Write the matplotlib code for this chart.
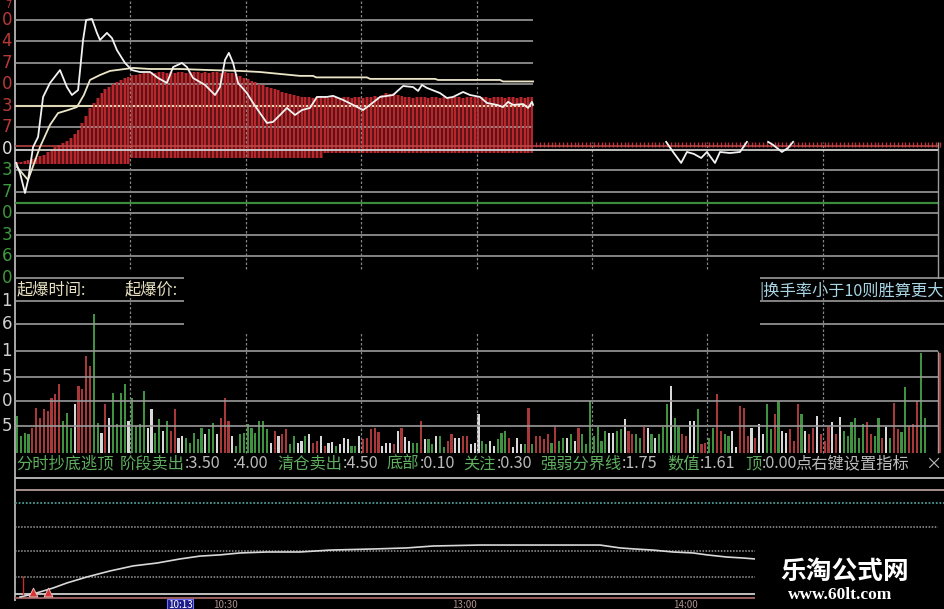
import numpy as np
import matplotlib.pyplot as plt
from matplotlib.patches import Rectangle

plt.rcParams['font.family'] = ['Noto Sans CJK SC', 'DejaVu Sans']

W, H = 945, 609
X_END = 241.8  # minutes from the left axis (15px) to the right edge

# ---------------- data ----------------
# left axis labels (only the last digit is visible in the screenshot)
top_levels = [6, 5, 4, 3, 2, 1, 0, -1, -2, -3, -4, -5, -6]
top_labels = ['0', '4', '7', '0', '3', '7', '0', '3', '7', '0', '3', '6', '0']
vol_levels = [6.08, 5.16, 4.08, 3.04, 2.08, 1.08]
vol_labels = ['1', '6', '1', '5', '0', '5']

# price line (minutes, grid units from the zero line); nan = hidden part
price_min = [0.3, 1.3, 2.6, 3.4, 4.7, 6.0, 7.3, 9.1, 11.7, 13.5,
             14.8, 16.4, 17.7, 18.5, 20.0, 21.3, 22.1, 23.9, 25.2, 26.5,
             28.6, 30.4, 32.5, 35.1, 37.2, 39.5, 41.1, 43.4, 44.7, 46.3,
             49.4, 52.0, 53.3, 54.6, 55.6, 56.7, 58.0, 60.3, 61.9, 63.7,
             65.5, 67.1, 68.9, 70.7, 72.8, 74.6, 76.7, 78.5, 81.1, 82.7,
             85.3, 87.9, 90.5, 92.3, 94.9, 98.3, 100.9, 103.5, 104.8, 105.8,
             107.1, 110.5, 112.3, 113.9, 116.5, 118.3, 120.9, 122.7, 125.3, 126.9,
             128.2, 129.5, 132.1, 133.4, 134.4, 134.7, np.nan,
             169.3, 171.1, 173.2, 174.7, 176.5, 178.4, 179.9, 182.0, 183.3, 185.9,
             188.5, 190.3, np.nan,
             195.8, 197.1, 199.4, 201.0, 202.3]
price_val = [-0.65, -1.12, -2.05, -1.44, 0.09, 0.56, 2.42, 3.07, 3.67, 2.88,
             2.51, 2.74, 5.07, 6.0, 6.05, 5.4, 5.07, 5.4, 5.16, 4.6,
             4.0, 3.67, 3.58, 3.58, 3.3, 3.07, 3.81, 4.0, 3.81, 3.3,
             2.98, 2.51, 2.88, 4.14, 4.47, 4.0, 3.07, 2.6, 2.14, 1.67,
             1.21, 1.26, 1.58, 1.91, 1.58, 1.81, 1.91, 2.42, 2.42, 2.47,
             2.28, 2.05, 1.81, 2.05, 2.42, 2.51, 2.93, 2.88, 2.7, 2.98,
             2.84, 2.6, 2.37, 2.42, 2.65, 2.51, 2.42, 2.14, 2.05, 1.95,
             2.19, 2.05, 2.09, 1.91, 2.19, 2.05, np.nan,
             0.33, -0.14, -0.65, -0.14, -0.23, -0.42, -0.14, -0.65, -0.14, -0.19,
             -0.14, 0.33, np.nan,
             0.33, 0.19, -0.14, 0.05, 0.33]

# average price line
avg_min = [0.5, 3.4, 6.5, 9.1, 11.2, 13.8, 16.1, 17.9, 19.5, 22.1,
           24.7, 30.7, 35.1, 42.9, 50.7, 58.5, 63.7, 68.9, 74.1, 77.5,
           78.3, 91.5, 92.3, 109.2, 110.0, 126.1, 126.9, 134.7]
avg_val = [-0.84, -1.44, 0.09, 1.12, 1.67, 1.81, 1.95, 2.51, 3.21, 3.44,
           3.63, 3.77, 3.72, 3.72, 3.67, 3.63, 3.58, 3.49, 3.4, 3.4,
           3.33, 3.33, 3.26, 3.26, 3.21, 3.21, 3.14, 3.14]

# red histogram in the price panel, one bar per minute (0..134)
red_top = [-0.6, -0.6, -0.55, -0.5, -0.45, -0.4, -0.35,
           -0.28, -0.15, -0.05, 0.09, 0.18, 0.28, 0.38, 0.5, 0.7, 0.88,
           1.2, 1.55, 1.9, 2.14, 2.35, 2.6, 2.78, 2.9, 3.0, 3.12, 3.22, 3.3, 3.36, 3.42, 3.46, 3.5,
           3.55, 3.52, 3.58, 3.55, 3.6, 3.56, 3.53, 3.58, 3.55, 3.6, 3.57, 3.54,
           3.58, 3.6, 3.56, 3.55, 3.58, 3.53, 3.57, 3.6, 3.55, 3.58, 3.54, 3.52,
           3.48, 3.4, 3.32, 3.24, 3.18, 3.1, 3.04, 2.96, 2.9, 2.84, 2.78, 2.72,
           2.65, 2.6, 2.55, 2.5, 2.46, 2.43,
           2.4, 2.42, 2.38, 2.4, 2.45, 2.4, 2.37, 2.42, 2.4, 2.38,
           2.44, 2.4, 2.36, 2.42, 2.4, 2.39, 2.43, 2.4, 2.45, 2.42,
           2.5, 2.6, 2.55, 2.62, 2.5, 2.45, 2.4, 2.42, 2.38, 2.4,
           2.44, 2.4, 2.36, 2.42, 2.4, 2.39, 2.43, 2.4, 2.38, 2.42,
           2.4, 2.37, 2.42, 2.4, 2.44, 2.38, 2.4, 2.42, 2.36, 2.4,
           2.43, 2.4, 2.38, 2.42, 2.4, 2.37, 2.41, 2.39, 2.42, 2.4]
red_low = [-0.72] * 30 + [-0.4] * 50 + [-0.2] * 55
red_band = (0.1, 0.32)  # small red marks to the right of the covered area

# volume bars, one per minute (0..240); r = up, g = down, w = flat
vol = [1.5, 0.7, 0.8, 0.75, 1.0, 1.8, 1.4, 1.75, 1.7, 2.2,
       2.35, 2.75, 1.3, 1.6, 1.0, 1.95, 2.7, 2.55, 3.9, 3.5,
       5.55, 1.2, 0.8, 1.95, 1.4, 2.4, 1.15, 2.4, 2.75, 1.3,
       2.2, 1.1, 1.15, 2.5, 1.0, 1.75, 0.8, 1.35, 0.9, 1.3,
       0.9, 1.75, 0.6, 0.7, 0.6, 0.4, 0.8, 0.55, 1.0, 0.75,
       0.95, 1.2, 0.75, 1.4, 2.2, 1.3, 0.7, 0.3, 0.75, 0.8, 1.15,
       1.0, 0.8, 1.3, 1.3, 0.95, 0.4, 0.9, 0.7, 0.75, 0.95,
       0.35, 0.7, 0.4, 0.5, 0.7, 0.75, 0.4, 0.5, 0.7, 0.3,
       0.4, 0.45, 0.3, 0.35, 0.6, 0.55, 0.3, 0.3, 0.7, 0.55,
       0.6, 0.95, 1.0, 0.85, 0.3, 0.4, 0.4, 0.35, 0.9, 1.0,
       0.65, 0.5, 0.4, 0.4, 1.3, 0.55, 0.55, 0.35, 0.7, 0.7,
       0.25, 0.5, 0.75, 0.6, 0.6, 0.7, 0.7, 0.35, 0.4, 1.55, 0.5,
       0.35, 0.5, 0.3, 0.55, 0.8, 0.9, 0.6, 0.25, 0.6, 0.35,
       0.35, 1.8, 0.35, 0.7, 0.7, 0.55, 0.75, 0.4, 1.05, 0.5,
       0.6, 0.6, 0.75, 0.5, 1.0, 0.75, 0.35, 2.1, 0.7, 1.05,
       0.5, 0.9, 0.8, 0.8, 0.9, 0.95, 1.35, 0.9, 0.75, 0.75,
       0.6, 1.05, 1.0, 0.75, 0.6, 0.75, 1.05, 1.95, 2.7, 1.4,
       1.05, 0.75, 0.7, 1.3, 1.3, 1.75, 0.35, 0.4, 0.6, 1.0, 2.35,
       0.9, 0.75, 0.7, 0.9, 0.25, 1.9, 1.8, 0.7, 1.0, 0.6,
       1.15, 0.75, 1.95, 0.95, 1.55, 2.1, 0.9, 0.8, 0.95, 0.5,
       1.95, 1.55, 0.9, 0.75, 1.0, 1.5, 0.75, 0.5, 1.05, 1.25,
       0.75, 1.45, 0.9, 0.7, 1.25, 1.4, 0.6, 1.15, 1.25, 0.75,
       0.7, 1.4, 0.6, 1.05, 0.6, 2.0, 0.95, 0.85, 2.65, 1.1,
       1.15, 2.1, 4.0, 1.4,
       0.0, 0.0, 0.0, 4.0]
vol_dir = ('ggggrrrrrr' 'rrgggwrrrr' 'ggwrwggggw' 'ggggwwggwg' 'rrwwgggggw' 'ggwrrrwggg' 'g'
           'gggggwrwrr' 'ggwwgwrrwr' 'wwgwwwggwr' 'rrrrwwwrwr' 'wwggrwggwg' 'grrwwrrwww' 'g'
           'gwwgggrwww' 'grgrrrrgrg' 'gwgwrggggg' 'ggwwggwrrg' 'grwgwgggwg' 'grrwwgrrgg' 'r'
           'rggwwrrrwr' 'wwggrgwwrr' 'rgwrrwrrrw' 'rwggggggrr' 'ggrwgrrggr' 'rrgg'
           'gggr')

# bottom indicator curve
bot_min = [1.3, 4.7, 9.9, 13.5, 18.7, 24.7, 30.7, 36.9, 42.9, 48.1,
           53.3, 58.5, 65.5, 74.1, 81.9, 94.1, 101.9, 108.7, 120.9, 152.1,
           157.3, 160.7, 165.9, 171.1, 176.3, 179.9, 185.1, 189.3, 192.4]
bot_val = [0.125, 0.25, 0.5, 0.71, 0.96, 1.21, 1.42, 1.54, 1.71, 1.83,
           1.88, 1.96, 2.0, 2.0, 2.08, 2.13, 2.17, 2.25, 2.29, 2.29,
           2.17, 2.13, 2.08, 2.0, 1.96, 1.88, 1.79, 1.75, 1.71]
signal_min = [4.7, 8.6]
signal_val = [0.33, 0.33]

info_items = [(16, '分时抄底逃顶', 'g'), (120, '阶段卖出', 'g'), (185, ':3.50', 'n'),
              (233, ':4.00', 'n'), (277, '清仓卖出', 'g'), (343, ':4.50', 'n'),
              (387, '底部', 'g'), (420, ':0.10', 'n'), (463, '关注', 'g'),
              (497, ':0.30', 'n'), (540, '强弱分界线', 'g'), (622, ':1.75', 'n'),
              (667, '数值', 'g'), (700, ':1.61', 'n'), (745, '顶', 'g'),
              (762, ':0.00', 'n'), (795, '点右键设置指标', 'n'), (925, '×', 'n')]

# ---------------- colours ----------------
RED, GREEN, WHITE = '#a8383a', '#3f923f', '#d8d8d8'
GRID = '#9a9a9a'
VGRID = '#858585'

fig = plt.figure(figsize=(W / 100, H / 100), dpi=100, facecolor='black')


def panel(y0, y1):
    ax = fig.add_axes([15 / W, 1 - y1 / H, (W - 15) / W, (y1 - y0) / H])
    ax.set_facecolor('black')
    ax.set_xlim(0, X_END)
    ax.axis('off')
    ax.axvline(0, color='#a8a8a8', lw=1.4, clip_on=False)
    return ax


dots = (0, (2, 1.6))

# ---------------- price panel ----------------
ax1 = panel(0, 279)
ax1.set_ylim(-6.05, 6.93)
ax1.hlines([6, 5, 4, 3, 1], 0, 134.7, color=GRID, lw=1.2)
ax1.hlines(2, 0, 134.7, color='#ddd6b4', lw=1.5)
ax1.hlines([-1, -2, -3, -4, -5], 0, 240, color=GRID, lw=1.2)
ax1.hlines(-6, 0, 44, color=GRID, lw=1.2)
ax1.hlines(-6, 193.7, X_END, color=GRID, lw=1.2)
ax1.hlines(-2.51, 0, 240, color='#3c8a3c', lw=1.6)
ax1.vlines([30, 60, 90, 120], -5.6, 6.93, color=VGRID, lw=0.9, linestyles=dots)
ax1.vlines([150, 180, 210], -5.6, 0.33, color=VGRID, lw=0.9, linestyles=dots)
ax1.vlines(240, -6.05, 0.33, color=GRID, lw=1.0)

mins = np.arange(len(red_top)) + 0.5
ax1.fill_between(mins, red_low, red_top, step='mid', color='#5c1416', lw=0)
ax1.vlines(mins, red_low, red_top, color='#c42a30', lw=1.3)
right_mins = np.arange(len(red_top), 241) + 0.5
ax1.vlines(right_mins, red_band[0], red_band[1], color='#b83038', lw=1.0)
ax1.hlines(0.15, 0, 240, color='#c04a4a', lw=1.1)
ax1.hlines(-0.05, 0, 240, color='#cfcfcf', lw=1.3)

ax1.plot(avg_min, avg_val, color='#ece6c8', lw=1.3)
ax1.plot(price_min, price_val, color='#f2f2f2', lw=1.3)

for lev, lab in zip(top_levels, top_labels):
    c = '#b83a36' if lev > 0 else ('#e0e0e0' if lev == 0 else '#3d9a3d')
    ax1.text(-0.8, lev, lab, color=c, fontsize=12, ha='right', va='center',
             family='DejaVu Sans', clip_on=False)
# partly hidden label at the very top edge
ax1.text(-0.8, 6.93, '7', color='#b83a36', fontsize=7, ha='right', va='top',
         family='DejaVu Sans', clip_on=False)

# ---------------- volume panel ----------------
ax2 = panel(279, 456)
ax2.set_ylim(-0.12, 6.96)
ax2.hlines([4.08, 3.04, 2.08, 1.08], 0, 240, color=GRID, lw=1.2)
ax2.hlines([6.08, 5.16], 0, 44, color=GRID, lw=1.2)
ax2.hlines([6.08, 5.16], 193.7, X_END, color=GRID, lw=1.2)
ax2.vlines([30, 210], 0, 6.96, color=VGRID, lw=0.9, linestyles=dots)
ax2.vlines([60, 90, 120, 150, 180], 0, 4.8, color=VGRID, lw=0.9, linestyles=dots)
ax2.vlines(240, 0, 4.1, color=GRID, lw=1.0)

cmap = {'r': RED, 'g': GREEN, 'w': WHITE}
bar_colors = [cmap[d] for d in vol_dir[:len(vol)]]
bar_colors += [GREEN] * (len(vol) - len(bar_colors))
ax2.bar(np.arange(len(vol)) + 0.5, vol, width=0.55, color=bar_colors, lw=0)

for lev, lab in zip(vol_levels, vol_labels):
    ax2.text(-0.8, lev, lab, color='#d0d0d0', fontsize=12, ha='right', va='center',
             family='DejaVu Sans', clip_on=False)

ax2.text(0.3, 6.52, '起爆时间:', color='#e6dfc0', fontsize=11.7, va='center')
ax2.text(28.5, 6.52, '起爆价:', color='#e6dfc0', fontsize=11.7, va='center')
ax2.text(193.5, 6.48, '|换手率小于10则胜算更大', color='#a8d6e4', fontsize=11.7,
         va='center')

# ---------------- indicator panel ----------------
ax3 = panel(456, 600)
ax3.set_ylim(0, 6.0)
ax3.axhline(5.08, color='#bdbdbd', lw=1.3)
ax3.axhline(4.58, color='#b89a9a', lw=1.3)
ax3.axhline(4.04, color='#4f9a92', lw=1.3, ls=(0, (1, 1)))
ax3.hlines([3.04, 2.04, 0.96], 0, 240, color='#9c9c9c', lw=1.1, linestyles=(0, (1, 1)))
ax3.axhline(0.25, color='#cfcfcf', lw=1.3)
ax3.axhline(0.08, color='#a86868', lw=1.3)
ax3.plot(bot_min, bot_val, color='#d8d8d8', lw=1.2)
ax3.vlines(2.1, 0.2, 1.0, color='#c03030', lw=1.0)
ax3.scatter(signal_min, signal_val, marker='^', s=40, color='#d83434',
            edgecolors='#f0c8c8', linewidths=0.6, zorder=4)

for x, txt, kind in info_items:
    fig.text(x / W, 1 - 464 / H, txt, color='#5fae5f' if kind == 'g' else '#bcbcbc',
             fontsize=11.7, va='center', ha='left')

# time axis strip at the bottom edge
fig.text(180 / W, 1 - 604.5 / H, '10:13', color='white', fontsize=7, ha='center',
         va='center', bbox=dict(boxstyle='square,pad=0.1', fc='#1c1c8a', ec='#7070ff', lw=0.8))
for xr, lab in [(238, '10:30'), (477, '13:00'), (698, '14:00')]:
    fig.text(xr / W, 1 - 604.5 / H, lab, color='#b09090', fontsize=7, ha='right', va='center')

# watermark
fig.patches.append(Rectangle((755 / W, 0), (W - 755) / W, (H - 548) / H,
                             transform=fig.transFigure, fc='black', ec='none', zorder=5))
fig.text(845 / W, 1 - 571 / H, '乐淘公式网', color='white', fontsize=18.5,
         fontweight='bold', ha='center', va='center', zorder=6)
fig.text(840 / W, 1 - 595 / H, 'www.60lt.com', color='white', fontsize=12.5,
         fontweight='bold', family='Liberation Serif', ha='center', va='center', zorder=6)

fig.savefig('out.png', dpi=100, facecolor='black')
